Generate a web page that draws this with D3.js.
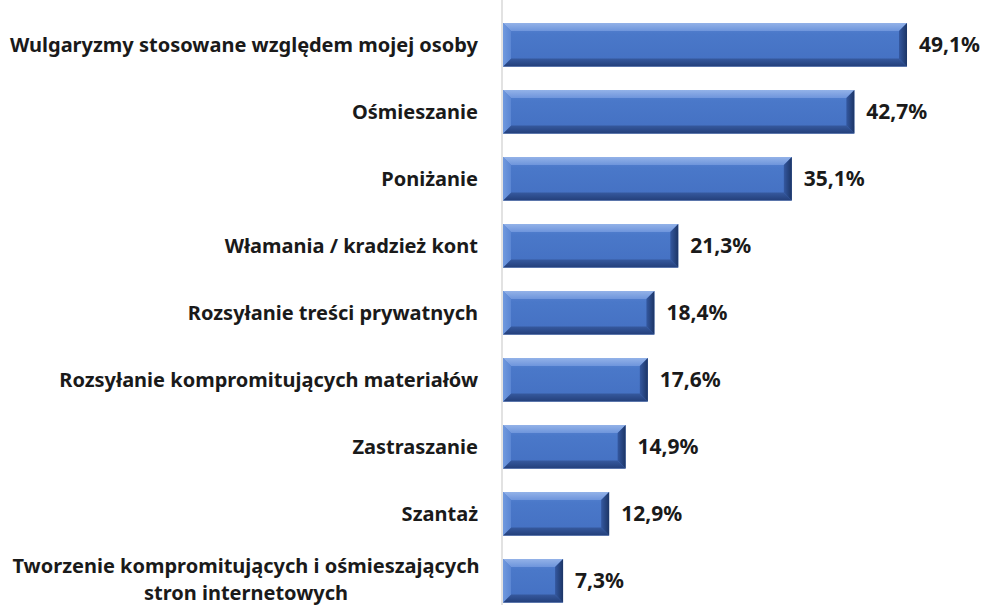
<!DOCTYPE html>
<html>
<head>
<meta charset="utf-8">
<script src="https://d3js.org/d3.v7.min.js"></script>
<style>
body { margin: 0; background: #fff; }
text { font-family: "Noto Sans", sans-serif; font-weight: bold; fill: #1a1a1a; }
</style>
</head>
<body>
<script>
// data
let labels = [
    ["Wulgaryzmy stosowane względem mojej osoby"],
    ["Ośmieszanie"],
    ["Poniżanie"],
    ["Włamania / kradzież kont"],
    ["Rozsyłanie treści prywatnych"],
    ["Rozsyłanie kompromitujących materiałów"],
    ["Zastraszanie"],
    ["Szantaż"],
    ["Tworzenie kompromitujących i ośmieszających", "stron internetowych"]
];
let values = [49.1, 42.7, 35.1, 21.3, 18.4, 17.6, 14.9, 12.9, 7.3];

let width = 985, height = 605;
let svg = d3.select("body").append("svg").attr("width", width).attr("height", height);

let defs = svg.append("defs")
function grad(id, x2, y2, stops) {
    let g = defs.append("linearGradient").attr("id", id)
        .attr("x1", 0).attr("y1", 0).attr("x2", x2).attr("y2", y2)
    stops.forEach(s => g.append("stop").attr("offset", s[0]).attr("stop-color", s[1]))
}
grad("gMain", 0, 1, [[0, "#5b86d3"], [0.25, "#4a78c9"], [1, "#4470c2"]])
grad("gTop", 0, 1, [[0, "#93b2e8"], [1, "#6e95dc"]])
grad("gBottom", 0, 1, [[0, "#36599e"], [1, "#233f7a"]])
grad("gRight", 1, 0, [[0, "#3458a0"], [1, "#1c3566"]])
grad("gLeft", 1, 0, [[0, "#7099de"], [1, "#5b86d3"]])

let keys = labels.map((d, i) => i);
let y = d3.scaleBand().domain(keys).range([11.3, 614.3]).paddingInner(0.35).paddingOuter(0.175);
let x = d3.scaleLinear().domain([0, 60]).range([503, 996.7]);

// axis line
svg.append("line")
    .attr("x1", x(0) - 1).attr("x2", x(0) - 1)
    .attr("y1", 0).attr("y2", height)
    .attr("stroke", "#d9d9d9").attr("stroke-width", 1.5)

let bev = 8
let bars = svg.selectAll("g.bar")
    .data(values)
    .enter()
    .append("g")
    .attr("class", "bar")

bars.append("rect")
    .attr("x", x(0))
    .attr("y", (d, i) => y(i))
    .attr("width", d => x(d) - x(0))
    .attr("height", y.bandwidth())
    .attr("fill", "url(#gMain)")

// bevel faces: top, bottom, left, right
function face(d, i, side) {
    let x0 = x(0), x1 = x(d), y0 = y(i), y1 = y(i) + y.bandwidth()
    let pts
    if (side == "top") pts = [[x0, y0], [x1, y0], [x1 - bev, y0 + bev], [x0 + bev, y0 + bev]]
    else if (side == "bottom") pts = [[x0, y1], [x1, y1], [x1 - bev, y1 - bev], [x0 + bev, y1 - bev]]
    else if (side == "left") pts = [[x0, y0], [x0 + bev, y0 + bev], [x0 + bev, y1 - bev], [x0, y1]]
    else pts = [[x1, y0], [x1 - bev, y0 + bev], [x1 - bev, y1 - bev], [x1, y1]]
    return pts.map(p => p.join(",")).join(" ")
}
let faceFills = { top: "url(#gTop)", bottom: "url(#gBottom)", left: "url(#gLeft)", right: "url(#gRight)" }
Object.keys(faceFills).forEach(function(side) {
    bars.append("polygon")
        .attr("points", (d, i) => face(d, i, side))
        .attr("fill", faceFills[side])
})

// value labels
bars.append("text")
    .attr("x", d => x(d) + 12)
    .attr("y", (d, i) => y(i) + y.bandwidth() / 2)
    .attr("dy", "0.35em")
    .attr("font-size", "21px")
    .text(d => d.toFixed(1).replace(".", ",") + "%")

// category labels
let cat = svg.selectAll("text.cat")
    .data(labels)
    .enter()
    .append("text")
    .attr("class", "cat")
    .attr("font-size", "20px")
    .attr("text-anchor", d => d.length > 1 ? "middle" : "end")
    .attr("x", d => d.length > 1 ? 246 : 478)
    .attr("y", (d, i) => y(i) + y.bandwidth() / 2 - (d.length - 1) * 15)
cat.selectAll("tspan")
    .data(d => d)
    .enter()
    .append("tspan")
    .attr("x", function() { return d3.select(this.parentNode).attr("x") })
    .attr("dy", (d, i) => i == 0 ? "0.35em" : "27px")
    .text(d => d)
</script>
</body>
</html>
